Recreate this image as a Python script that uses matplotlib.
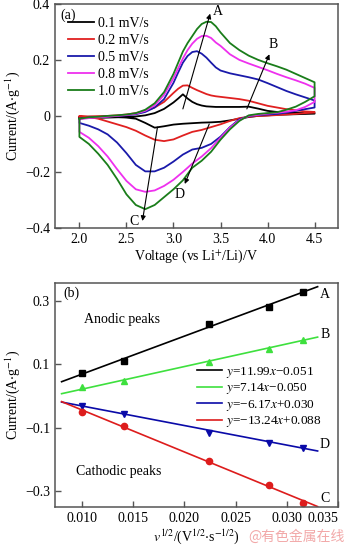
import matplotlib
matplotlib.use("Agg")
import matplotlib.pyplot as plt
import numpy as np

plt.rcParams['font.family'] = ['Liberation Serif', 'DejaVu Serif']
plt.rcParams['mathtext.fontset'] = 'stix'
plt.rcParams['axes.unicode_minus'] = True

# ---- panel (a): cyclic voltammograms ----
rates = ['0.1 mV/s', '0.2 mV/s', '0.5 mV/s', '0.8 mV/s', '1.0 mV/s']
cv_colors = ['#000000', '#e02020', '#1a1aaa', '#ee30ee', '#1a7d1a']

v_up = [2.0, 2.1, 2.2, 2.3, 2.4, 2.5, 2.6, 2.7, 2.8, 2.9, 3.0, 3.05, 3.1, 3.15, 3.2, 3.25,
        3.3, 3.35, 3.4, 3.45, 3.5, 3.6, 3.7, 3.8, 3.9, 4.0, 4.1, 4.2, 4.3, 4.4, 4.5]
v_dn = [4.5, 4.4, 4.3, 4.2, 4.1, 4.0, 3.9, 3.8, 3.7, 3.6, 3.5, 3.4, 3.3, 3.2, 3.1, 3.0,
        2.9, 2.8, 2.7, 2.6, 2.5, 2.4, 2.3, 2.2, 2.1, 2.0]

i_up_01 = [-0.006, -0.007, -0.007, -0.006, -0.005, -0.004, -0.002, 0.002, 0.010, 0.025, 0.048,
           0.062, 0.077, 0.062, 0.050, 0.042, 0.037, 0.034, 0.033, 0.032, 0.032, 0.032, 0.032,
           0.033, 0.026, 0.018, 0.014, 0.012, 0.011, 0.010, 0.010]
i_dn_01 = [0.008, 0.007, 0.006, 0.005, 0.004, 0.002, 0.000, -0.004, -0.010, -0.016, -0.021,
           -0.023, -0.024, -0.026, -0.028, -0.031, -0.037, -0.042, -0.025, -0.010, -0.006,
           -0.004, -0.003, -0.003, -0.003, -0.004]

i_up_02 = [-0.003, -0.002, -0.001, 0.000, 0.002, 0.005, 0.010, 0.018, 0.030, 0.050, 0.082,
           0.097, 0.108, 0.109, 0.100, 0.092, 0.085, 0.078, 0.073, 0.070, 0.068, 0.064, 0.060,
           0.054, 0.045, 0.036, 0.030, 0.024, 0.020, 0.016, 0.014]
i_dn_02 = [0.012, 0.010, 0.007, 0.005, 0.003, 0.001, 0.000, -0.003, -0.008, -0.018, -0.030,
           -0.040, -0.050, -0.057, -0.070, -0.084, -0.090, -0.085, -0.070, -0.053, -0.040,
           -0.030, -0.020, -0.010, -0.004, 0.000]

i_up_05 = [-0.010, -0.006, -0.004, -0.002, 0.000, 0.002, 0.006, 0.014, 0.030, 0.060, 0.118,
           0.155, 0.190, 0.214, 0.228, 0.231, 0.222, 0.208, 0.190, 0.173, 0.162, 0.152, 0.145,
           0.138, 0.130, 0.117, 0.103, 0.089, 0.077, 0.066, 0.055]
i_dn_05 = [0.030, 0.024, 0.018, 0.012, 0.007, 0.005, 0.003, -0.001, -0.012, -0.040, -0.074,
           -0.100, -0.114, -0.120, -0.138, -0.163, -0.185, -0.198, -0.198, -0.175, -0.133,
           -0.095, -0.066, -0.048, -0.035, -0.025]

i_up_08 = [-0.012, -0.008, -0.005, -0.003, 0.000, 0.003, 0.008, 0.018, 0.038, 0.075, 0.135,
           0.170, 0.205, 0.235, 0.258, 0.275, 0.285, 0.286, 0.278, 0.262, 0.250, 0.220, 0.200,
           0.187, 0.175, 0.163, 0.150, 0.138, 0.127, 0.115, 0.100]
i_dn_08 = [0.050, 0.032, 0.020, 0.015, 0.011, 0.008, 0.004, 0.000, -0.015, -0.042, -0.078,
           -0.115, -0.145, -0.170, -0.200, -0.228, -0.250, -0.266, -0.271, -0.262, -0.232,
           -0.190, -0.145, -0.108, -0.078, -0.057]

i_up_10 = [-0.010, -0.005, -0.003, 0.000, 0.002, 0.005, 0.010, 0.022, 0.045, 0.085, 0.150,
           0.190, 0.230, 0.260, 0.285, 0.310, 0.328, 0.336, 0.335, 0.320, 0.298, 0.260, 0.235,
           0.215, 0.200, 0.188, 0.177, 0.165, 0.150, 0.135, 0.120]
i_dn_10 = [0.070, 0.050, 0.033, 0.022, 0.013, 0.010, 0.007, 0.002, -0.018, -0.048, -0.085,
           -0.128, -0.160, -0.185, -0.230, -0.262, -0.290, -0.318, -0.333, -0.318, -0.280,
           -0.225, -0.175, -0.135, -0.100, -0.075]

cv_up = [i_up_01, i_up_02, i_up_05, i_up_08, i_up_10]
cv_dn = [i_dn_01, i_dn_02, i_dn_05, i_dn_08, i_dn_10]

# ---- panel (b): peak current vs sqrt(scan rate) ----
sqrt_v = [0.01, 0.01414, 0.02236, 0.02828, 0.03162]
peak_A = [0.072, 0.109, 0.228, 0.281, 0.328]
peak_B = [0.028, 0.047, 0.106, 0.147, 0.178]
peak_D = [-0.031, -0.056, -0.116, -0.147, -0.163]
peak_C = [-0.050, -0.094, -0.206, -0.281, -0.338]
fit_slope = [11.99, 7.14, -6.17, -13.24]
fit_icpt = [-0.051, -0.050, 0.030, 0.088]
fit_labels = ['$y$=11.99$x$\u22120.051', '$y$=7.14$x$\u22120.050',
              '$y$=\u22126.17$x$+0.030', '$y$=\u221213.24$x$+0.088']
fit_colors = ['#000000', '#3ee03e', '#0a0aa8', '#dd1c1c']
fit_markers = ['s', '^', 'v', 'o']
peak_names = ['A', 'B', 'D', 'C']
fit_range = [0.008, 0.033]

fig = plt.figure(figsize=(3.5, 5.48), dpi=100)
ax1 = fig.add_axes([0.157, 0.584, 0.809, 0.409])
ax2 = fig.add_axes([0.157, 0.075, 0.809, 0.409])

spine_c = '#555555'
for ax in (ax1, ax2):
    for s in ax.spines.values():
        s.set_color(spine_c)
        s.set_linewidth(1.1)
    ax.tick_params(direction='in', length=4, width=1, colors=spine_c,
                   labelcolor='black', labelsize=10, top=False, right=False)

# panel (a)
for lab, c, up, dn in zip(rates, cv_colors, cv_up, cv_dn):
    vv = v_up + v_dn + [v_up[0]]
    ii = up + dn + [up[0]]
    ax1.plot(vv, ii, color=c, lw=1.3, label=lab)

ax1.set_xlim(1.74, 4.75)
ax1.set_ylim(-0.4, 0.4)
ax1.set_xticks([2.0, 2.5, 3.0, 3.5, 4.0, 4.5])
ax1.set_xticklabels(['2.0', '2.5', '3.0', '3.5', '4.0', '4.5'])
ax1.set_yticks([-0.4, -0.2, 0, 0.2, 0.4])
ax1.set_yticklabels(['\u22120.4', '\u22120.2', '0', '0.2', '0.4'])
ax1.set_xlabel('Voltage (vs Li$^{+}$/Li)/V', fontsize=10)
ax1.set_ylabel('Current/(A$\\cdot$g$^{-1}$)', fontsize=10)
ax1.yaxis.set_label_coords(-0.115, 0.5)
ax1.xaxis.set_label_coords(0.5, -0.09)
ax1.text(0.045, 0.95, '(a)', transform=ax1.transAxes, fontsize=10,
         ha='center', va='center')
ax1.legend(loc='upper left', bbox_to_anchor=(0.045, 0.94), frameon=False,
           fontsize=10, handlelength=1.9, handletextpad=0.3,
           labelspacing=0.28, borderaxespad=0, borderpad=0)

arw = dict(arrowstyle='-|>', color='black', lw=0.8, mutation_scale=7,
           shrinkA=0, shrinkB=0)
ax1.annotate('', xy=(3.39, 0.365), xytext=(3.10, 0.025), arrowprops=arw)
ax1.annotate('', xy=(4.02, 0.22), xytext=(3.78, 0.025), arrowprops=arw)
ax1.annotate('', xy=(2.67, -0.375), xytext=(2.83, -0.04), arrowprops=arw)
ax1.annotate('', xy=(3.12, -0.243), xytext=(3.38, -0.029), arrowprops=arw)
ax1.text(3.47, 0.372, 'A', fontsize=10, ha='center', va='center')
ax1.text(4.06, 0.255, 'B', fontsize=10, ha='center', va='center')
ax1.text(2.585, -0.378, 'C', fontsize=10, ha='center', va='center')
ax1.text(3.06, -0.28, 'D', fontsize=10, ha='center', va='center')

# panel (b)
xf = np.array(fit_range)
for pts, k, b, lab, c, m in zip([peak_A, peak_B, peak_D, peak_C], fit_slope, fit_icpt,
                                fit_labels, fit_colors, fit_markers):
    ax2.plot(xf, k * xf + b, color=c, lw=1.2, label=lab)
    ax2.plot(sqrt_v, pts, ls='none', marker=m, color=c, ms=4.5)

ax2.set_xlim(0.00735, 0.035)
ax2.set_ylim(-0.35, 0.357)
ax2.set_xticks([0.010, 0.015, 0.020, 0.025, 0.030, 0.035])
ax2.set_xticklabels(['0.010', '0.015', '0.020', '0.025', '0.030', '0.035'])
ax2.get_xticklabels()[-1].set_horizontalalignment('right')
ax2.set_yticks([-0.3, -0.1, 0.1, 0.3])
ax2.set_yticklabels(['\u22120.3', '\u22120.1', '0.1', '0.3'])
ax2.set_xlabel('$v^{1/2}$/(V$^{1/2}$$\\cdot$s$^{-1/2}$)', fontsize=10)
ax2.set_ylabel('Current/(A$\\cdot$g$^{-1}$)', fontsize=10)
ax2.yaxis.set_label_coords(-0.115, 0.5)
ax2.xaxis.set_label_coords(0.5, -0.09)
ax2.text(0.028, 0.955, '(b)', transform=ax2.transAxes, fontsize=10,
         ha='left', va='center')
ax2.text(0.0139, 0.24, 'Anodic peaks', fontsize=10, ha='center', va='center')
ax2.text(0.0136, -0.2375, 'Cathodic peaks', fontsize=10, ha='center', va='center')
for name, yy in zip(peak_names, [0.319, 0.194, -0.153, -0.322]):
    ax2.text(0.0337, yy, name, fontsize=10, ha='center', va='center')
ax2.legend(loc='upper left', bbox_to_anchor=(0.50, 0.635), frameon=False,
           fontsize=9.5, handlelength=1.9, handletextpad=0.35,
           labelspacing=0.12, borderaxespad=0, borderpad=0)

fig.text(0.985, 0.02, '@有色金属在线', fontsize=10, color='#f2a8a8',
         family=['Noto Sans CJK SC', 'DejaVu Sans'], ha='right', va='center')

fig.savefig('out.png', dpi=100)
